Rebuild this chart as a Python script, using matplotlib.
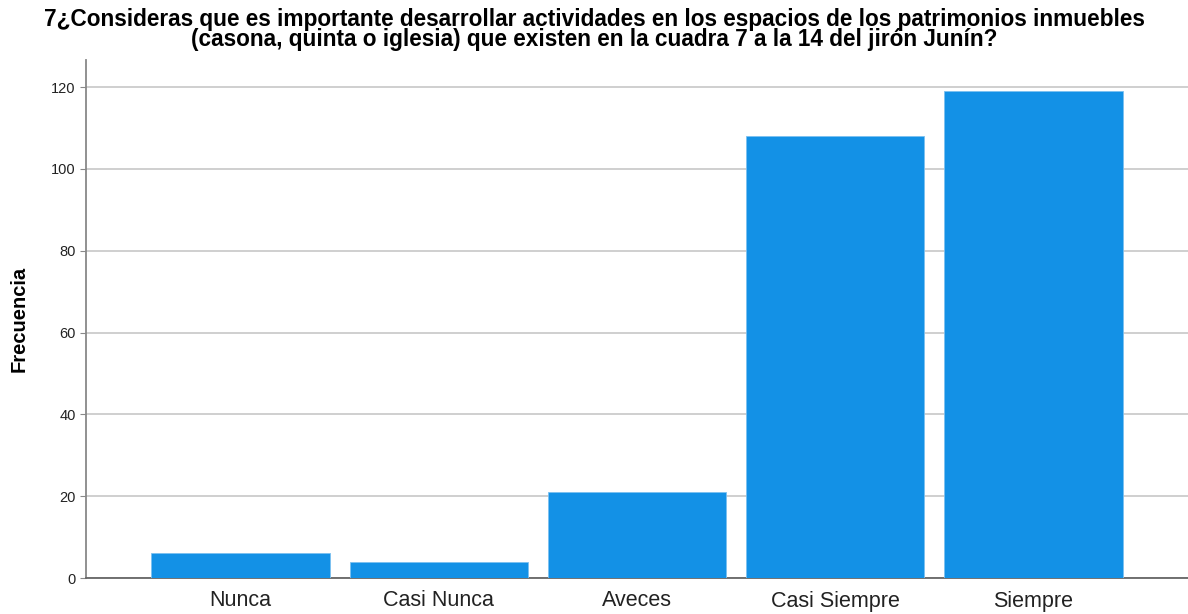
import matplotlib
matplotlib.use("Agg")
import matplotlib.pyplot as plt

plt.rcParams['font.family'] = ['Liberation Sans', 'DejaVu Sans']

categorias = ["Nunca", "Casi Nunca", "Aveces", "Casi Siempre", "Siempre"]
frecuencias = [6, 4, 21, 108, 119]
titulo = ("7¿Consideras que es importante desarrollar actividades en los espacios de los patrimonios inmuebles\n"
          "(casona, quinta o iglesia) que existen en la cuadra 7 a la 14 del jirón Junín?")

fig = plt.figure(figsize=(11.88, 6.14), dpi=100)
ax = fig.add_axes([86 / 1188, 36 / 614, (1188 - 86) / 1188, (578 - 60) / 614])

x = list(range(len(categorias)))
ax.bar(x, frecuencias, width=0.9, color="#1391e6", edgecolor="#7cc0f0", linewidth=0.6, zorder=3)

ax.set_xlim(-0.78, 4.78)
ax.set_ylim(0, 126.6)
ax.set_yticks([0, 20, 40, 60, 80, 100, 120])
ax.set_xticks(x)
ax.set_xticklabels(categorias, fontsize=15.5, color="#222222")
ax.tick_params(axis="y", labelsize=10.5, length=4, color="#888888", labelcolor="#222222")
ax.tick_params(axis="x", length=0, pad=9)
ax.grid(axis="y", color="#cccccc", linewidth=1.3, zorder=0)

for side in ["top", "right"]:
    ax.spines[side].set_visible(False)
ax.spines["left"].set_color("#888888")
ax.spines["bottom"].set_color("#666666")
ax.spines["left"].set_linewidth(1.3)
ax.spines["bottom"].set_linewidth(1.3)

ax.set_ylabel("Frecuencia", fontsize=14.5, fontweight="bold", labelpad=16)
fig.text(0.5, 0.987, titulo, ha="center", va="top", fontsize=16.3, fontweight="bold", linespacing=0.86)

fig.savefig("out.png", dpi=100)
